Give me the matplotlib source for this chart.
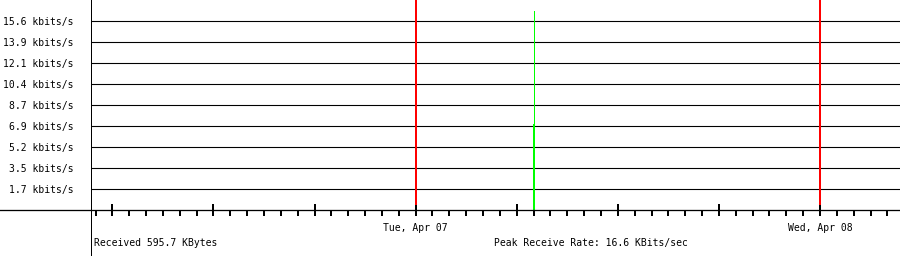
import matplotlib
matplotlib.use("Agg")
import matplotlib.pyplot as plt
from matplotlib.lines import Line2D
from matplotlib.ticker import FixedLocator, FuncFormatter

# hours relative to Tue, Apr 07 00:00
x_range = (-19.3, 28.75)
day_marks = [0, 24]
day_labels = ["Tue, Apr 07", "Wed, Apr 08"]
major_hours = [-18, -12, -6, 0, 6, 12, 18, 24]
minor_hours = list(range(-19, 29))

# receive rate samples (kbits/s)
sample_hours = [7.00, 7.05]
sample_rates = [7.10, 16.43]
sample_widths = [2.0, 1.0]   # px

y_step = 1.7333
y_ticks = [y_step * k for k in range(1, 10)]
y_max = y_step * 10

received_text = "Received 595.7 KBytes"
peak_text = "Peak Receive Rate: 16.6 KBits/sec"

W, H, DPI = 900, 256, 100
PX = 72.0 / DPI  # points per pixel

plt.rcParams["font.family"] = ["DejaVu Sans Mono"]
plt.rcParams["font.size"] = 7

fig = plt.figure(figsize=(W / DPI, H / DPI), dpi=DPI)
ax = fig.add_axes([90.5 / W, 46 / H, (W - 90.5) / W, 210 / H])
ax.set_xlim(*x_range)
ax.set_ylim(0, y_max)

for s in ["top", "right", "left", "bottom"]:
    ax.spines[s].set_visible(False)

# horizontal grid
for v in y_ticks:
    ax.axhline(v, color="black", lw=1.1 * PX, zorder=1)

# day boundaries
for d in day_marks:
    ax.axvline(d, ymin=6 / 210, ymax=1, color="#ff0000", lw=2 * PX, zorder=2)

# receive rate
for h, r, w in zip(sample_hours, sample_rates, sample_widths):
    ax.vlines(h, 0, r, colors="#00ff00", lw=w * PX, zorder=3, antialiased=False)

ax.yaxis.set_major_locator(FixedLocator(y_ticks))
ax.yaxis.set_major_formatter(FuncFormatter(lambda v, p: f"{v:.1f} kbits/s"))
ax.tick_params(axis="y", length=0, pad=17 * PX)

ax.xaxis.set_major_locator(FixedLocator(major_hours))
ax.xaxis.set_minor_locator(FixedLocator(minor_hours))
ax.xaxis.set_major_formatter(FuncFormatter(
    lambda v, p: day_labels[day_marks.index(int(round(v)))] if int(round(v)) in day_marks else ""))
ax.tick_params(axis="x", which="major", direction="inout", length=12 * PX,
               width=2 * PX, color="black", pad=7 * PX)
ax.tick_params(axis="x", which="minor", direction="out", length=6 * PX,
               width=2 * PX, color="black")

# axis lines extended across the figure
fig.add_artist(Line2D([90.5 / W, 90.5 / W], [0, 1], transform=fig.transFigure,
                      color="black", lw=1.0 * PX))
fig.add_artist(Line2D([0, 1], [46 / H, 46 / H], transform=fig.transFigure,
                      color="black", lw=1.3 * PX))

fig.text(94 / W, 1 - 243 / H, received_text, ha="left", va="center")
fig.text(494 / W, 1 - 243 / H, peak_text, ha="left", va="center")

fig.savefig("out.png", dpi=DPI)
